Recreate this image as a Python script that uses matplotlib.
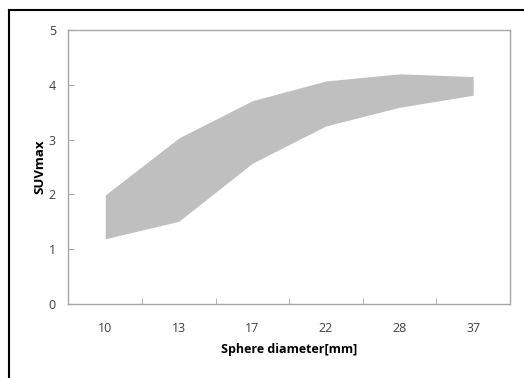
import matplotlib.pyplot as plt
from matplotlib.lines import Line2D

# Данные
diameters = ['10', '13', '17', '22', '28', '37']
suv_upper = [1.99, 3.03, 3.71, 4.07, 4.20, 4.15]
suv_lower = [1.19, 1.51, 2.57, 3.25, 3.59, 3.81]
y_ticks = [0, 1, 2, 3, 4, 5]

plt.rcParams['font.family'] = ['Open Sans', 'DejaVu Sans']

fig = plt.figure(figsize=(5.24, 3.78), dpi=100)
ax = fig.add_axes([0.1307, 0.1958, 0.8425, 0.7248])

x = list(range(len(diameters)))
ax.fill_between(x, suv_lower, suv_upper, color='#bfbfbf', linewidth=0)

ax.set_xlim(-0.5, len(diameters) - 0.5)
ax.set_ylim(0, 5)
ax.set_yticks(y_ticks)
ax.set_xticks(x)
ax.set_xticklabels(diameters)
ax.set_xticks([i + 0.5 for i in x[:-1]], minor=True)

for s in ax.spines.values():
    s.set_color('#a6a6a6')
    s.set_linewidth(1.0)

ax.tick_params(axis='x', which='major', length=0, pad=13, labelsize=9, labelcolor='#404040')
ax.tick_params(axis='x', which='minor', direction='in', length=4, color='#a6a6a6')
ax.tick_params(axis='y', direction='in', length=4, color='#a6a6a6', pad=9,
               labelsize=9, labelcolor='#404040')

ax.set_xlabel('Sphere diameter[mm]', fontsize=9, fontweight='bold', labelpad=6)
ax.set_ylabel('SUVmax', fontsize=9.5, fontweight='bold', labelpad=2)

# рамка слева и сверху
fig.add_artist(Line2D([8.5 / 524, 8.5 / 524], [0, 1 - 10 / 378], color='black', lw=1.5))
fig.add_artist(Line2D([8.5 / 524, 1], [1 - 10 / 378, 1 - 10 / 378], color='black', lw=1.5))

fig.savefig('out.png', dpi=100)
